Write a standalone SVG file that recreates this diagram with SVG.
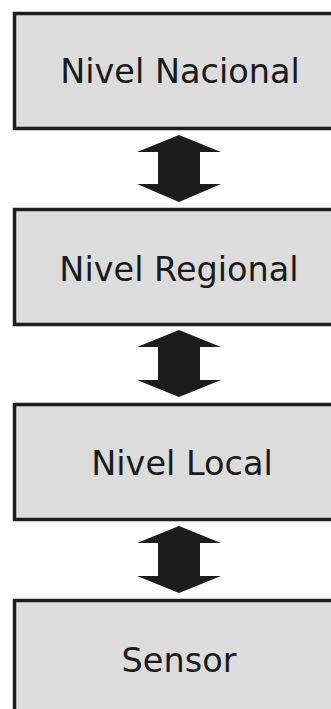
<svg xmlns="http://www.w3.org/2000/svg" width="331" height="709" viewBox="0 0 331 709">
<style>
.box{fill:#dcdcdc;stroke:#1e1e1e;stroke-width:3.5}
.lbl{font-family:"DejaVu Sans","Liberation Sans",sans-serif;font-size:33.5px;fill:#1a1a1a;text-anchor:middle}
.arr{fill:#1c1c1c}
</style>
<rect width="331" height="709" fill="#ffffff"/>
<g id="nacional">
<rect class="box" x="14.5" y="13.5" width="330" height="115"/>
<text class="lbl" x="180" y="83">Nivel Nacional</text>
</g>
<g id="regional">
<rect class="box" x="14.5" y="209.5" width="330" height="115"/>
<text class="lbl" x="179" y="281">Nivel Regional</text>
</g>
<g id="local">
<rect class="box" x="14.5" y="404.5" width="330" height="115"/>
<text class="lbl" x="182" y="475">Nivel Local</text>
</g>
<g id="sensor">
<rect class="box" x="14.5" y="600.5" width="330" height="130"/>
<text class="lbl" x="179" y="672">Sensor</text>
</g>
<g id="connectors">
<path class="arr" d="M179,135 L221,152 L200,152 L200,184 L221,184 L179,202 L137,184 L158,184 L158,152 L137,152 Z"/>
<path class="arr" d="M179,330 L221,347 L200,347 L200,380 L221,380 L179,397 L137,380 L158,380 L158,347 L137,347 Z"/>
<path class="arr" d="M179,526 L221,543 L200,543 L200,576 L221,576 L179,593 L137,576 L158,576 L158,543 L137,543 Z"/>
</g>
</svg>
